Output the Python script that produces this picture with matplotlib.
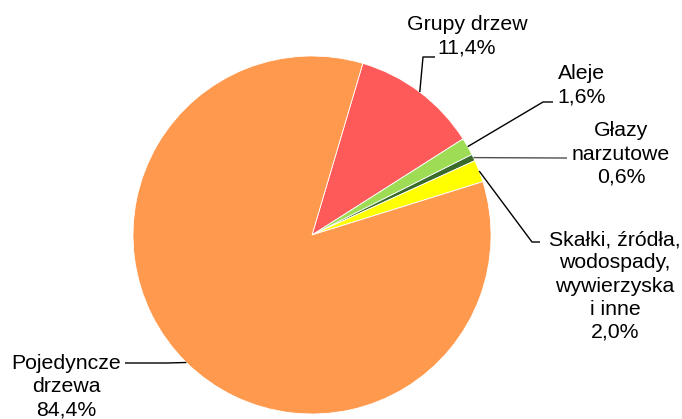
import numpy as np
import matplotlib
matplotlib.use("Agg")
import matplotlib.pyplot as plt

plt.rcParams["font.family"] = ["Liberation Sans", "DejaVu Sans"]

# data
labels = ["Grupy drzew", "Aleje", "Głazy\nnarzutowe",
          "Skałki, źródła,\nwodospady,\nwywierzyska\ni inne", "Pojedyncze\ndrzewa"]
shares = [11.4, 1.6, 0.6, 2.0, 84.4]
pct_text = ["11,4%", "1,6%", "0,6%", "2,0%", "84,4%"]
colors = ["#FF5A5A", "#9EDC55", "#3A6B2A", "#FFFF00", "#FF994D"]

# layout (pixel coords, y down): elbow, line end, text centre
W, H = 682, 419
CX, CY, R = 312, 235, 179
elbows = [(423, 57), (543, 102), (560, 158), (532, 242), (167, 363)]
ends = [(435, 57), (553, 102), (567, 158), (540, 242), (125, 363)]
text_xy = [(467, 36), (582, 85), (621, 154), (615, 286), (66, 387)]
line_cols = ["black", "black", "#505050", "black", "black"]

fig = plt.figure(figsize=(W / 100, H / 100), dpi=100)
ax = fig.add_axes([0, 0, 1, 1])
wedges, _ = ax.pie(shares, colors=colors, startangle=73.5, counterclock=False,
                   center=(CX, H - CY), radius=R,
                   wedgeprops=dict(edgecolor="white", linewidth=0.6))
ax.set_xlim(0, W)
ax.set_ylim(0, H)
ax.set_aspect("equal")
ax.axis("off")

for w, lab, pct, el, en, txy, lc in zip(wedges, labels, pct_text, elbows, ends,
                                        text_xy, line_cols):
    a = np.deg2rad((w.theta1 + w.theta2) / 2)
    ax0 = CX + R * np.cos(a)
    ay0 = (H - CY) + R * np.sin(a)
    ax.plot([ax0, el[0], en[0]], [ay0, H - el[1], H - en[1]], color=lc, lw=1.0,
            solid_capstyle="butt")
    ax.text(txy[0], H - txy[1], f"{lab}\n{pct}", ha="center", va="center",
            fontsize=15.3, linespacing=1.28, color="black")

fig.savefig("out.png", dpi=100)
